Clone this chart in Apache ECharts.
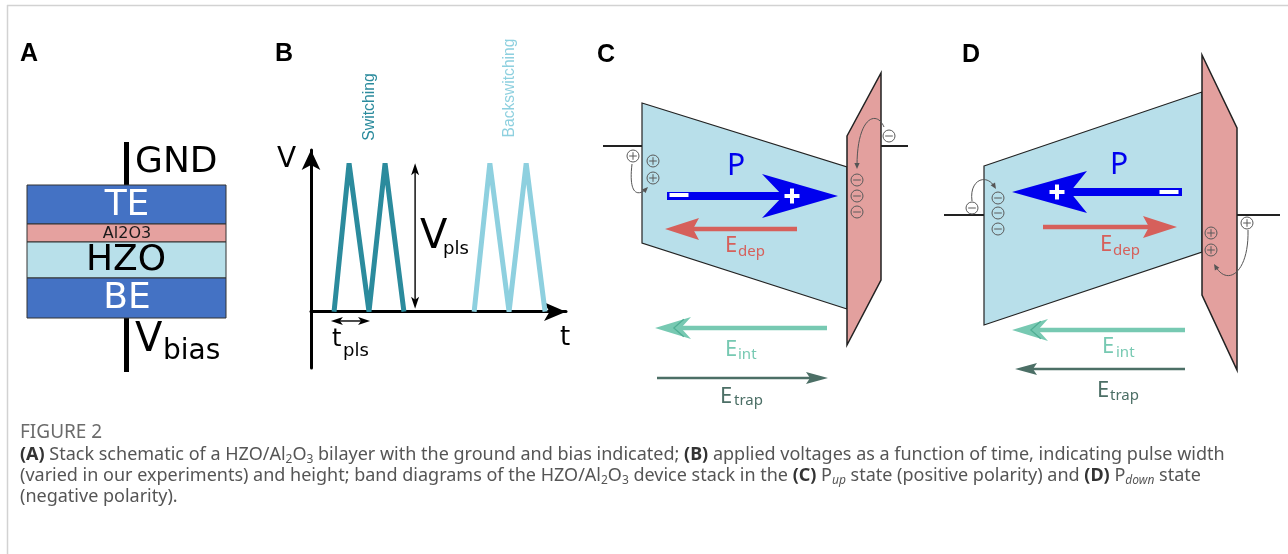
<!DOCTYPE html>
<html><head><meta charset="utf-8">
<script src="https://cdn.jsdelivr.net/npm/echarts@6/dist/echarts.min.js"></script>
<style>html,body{margin:0;padding:0;background:#fff}#c{width:1288px;height:554px}</style>
</head><body><div id="c"></div>
<script>
// ================= DATA =================
// Panel A: device stack (top electrode -> bottom electrode), layer boundaries
const stackLayers = ['TE', 'Al2O3', 'HZO', 'BE'];
const stackX = [27, 226];
const stackEdges = [185, 224, 242, 278, 318];
const wires = [[126.5, 142, 126.5, 185], [126.5, 318, 126.5, 372]];

// Panel B: applied voltage pulses (t in units, V normalised to V_pls)
const switchingT = [0.66, 1.09, 1.66, 2.12, 2.66];
const switchingV = [0, 1, 0, 1, 0];
const backswitchingT = [4.67, 5.12, 5.67, 6.16, 6.70];
const backswitchingV = [0, 1, 0, 1, 0];
const vplsMarker = [2.98, 0.02, 2.98, 1.0];
const tplsMarker = [0.57, -0.063, 1.69, -0.063];

// Panel C: P_up band diagram
const cHZO = [[642, 103], [847, 167], [847, 309], [642, 243]];
const cAl2O3 = [[847, 136], [881, 73], [881, 280], [847, 345]];
const cElectrodes = [[603, 146, 642, 146], [881, 146, 908, 146]];
const cP = [[667, 196, 838, 196]];
const cEdep = [[797, 229, 665, 229]];
const cEint = [[827, 328, 655, 328]];
const cEtrap = [[657, 378, 828, 378]];
const cCharges = [[633, 156, 1], [653, 161, 1], [653, 178, 1], [889, 136, -1], [857, 180, -1], [857, 196, -1], [857, 212, -1]];
const cHops = [[632, 164, 628, 198, 640, 195, 648, 187], [884, 127, 877, 110, 857, 116, 857, 169]];
const cSigns = [[679, 195, -1], [792, 196, 1]];

// Panel D: P_down band diagram
const dHZO = [[984, 166], [1202, 92], [1202, 252], [984, 325]];
const dAl2O3 = [[1202, 55], [1237, 128], [1237, 370], [1202, 295]];
const dElectrodes = [[944, 215, 984, 215], [1237, 215, 1280, 215]];
const dP = [[1182, 192, 1012, 192]];
const dEdep = [[1043, 227, 1177, 227]];
const dEint = [[1185, 330, 1012, 330]];
const dEtrap = [[1185, 369, 1015, 369]];
const dCharges = [[972, 208, -1], [998, 198, -1], [998, 213, -1], [998, 229, -1], [1247, 223, 1], [1211, 233, 1], [1211, 250, 1]];
const dHops = [[972, 201, 969, 180, 986, 173, 996, 189], [1248, 230, 1249, 272, 1228, 287, 1214, 264]];
const dSigns = [[1057, 192, 1], [1169, 192, -1]];

// ================= STYLES =================
const layerFill = ['#4472C4', '#E5A19F', '#B8E0EA', '#4472C4'];
const hzoFill = '#B8DFEA', alFill = '#E3A09E';
const colP = '#0000EE', colDep = '#D6605B', colInt = '#77C9B2', colTrap = '#4C6F66';
const colSw = '#2B8B9D', colBack = '#8ED0DF';

function zip(a, b) { return a.map((v, i) => [v, b[i]]); }

function polygonSeries(points, style, z) {
  return {
    type: 'custom', xAxisIndex: 0, yAxisIndex: 0, silent: true, z, data: points, encode: { x: 0, y: 1 },
    renderItem(params, api) {
      if (params.dataIndex !== 0) return null;
      return { type: 'polygon', shape: { points: points.map(p => api.coord(p)) }, style };
    }
  };
}
function segSeries(segs, style, z) {
  return {
    type: 'custom', xAxisIndex: 0, yAxisIndex: 0, silent: true, z, data: segs, encode: { x: [0, 2], y: [1, 3] },
    renderItem(params, api) {
      const a = api.coord([api.value(0), api.value(1)]), b = api.coord([api.value(2), api.value(3)]);
      return { type: 'line', shape: { x1: a[0], y1: a[1], x2: b[0], y2: b[1] }, style };
    }
  };
}
function arrowSeries(segs, st, z, xi, yi) {
  return {
    type: 'custom', xAxisIndex: xi || 0, yAxisIndex: yi || 0, silent: true, z, data: segs, encode: { x: [0, 2], y: [1, 3] },
    renderItem(params, api) {
      const a = api.coord([api.value(0), api.value(1)]), b = api.coord([api.value(2), api.value(3)]);
      const dx = b[0] - a[0], dy = b[1] - a[1], L = Math.hypot(dx, dy), ux = dx / L, uy = dy / L, px = -uy, py = ux;
      const hw = st.shaft / 2;
      const children = [];
      const head = (s, e) => {
        const vx = (e[0] - s[0]) / L, vy = (e[1] - s[1]) / L, qx = -vy, qy = vx;
        const base = [e[0] - vx * st.headLen, e[1] - vy * st.headLen];
        const notch = [e[0] - vx * (st.headLen - st.notch), e[1] - vy * (st.headLen - st.notch)];
        const hstyle = { fill: st.color };
        if (st.edge) { hstyle.stroke = st.edge; hstyle.lineWidth = 1; }
        children.push({ type: 'polygon', shape: { points: [e, [base[0] + qx * st.half, base[1] + qy * st.half], notch, [base[0] - qx * st.half, base[1] - qy * st.half]] }, style: hstyle });
        if (st.inner) {
          const ib = [e[0] - vx * st.headLen * 0.8, e[1] - vy * st.headLen * 0.8];
          const inn = [e[0] - vx * (st.headLen * 0.8 - st.notch), e[1] - vy * (st.headLen * 0.8 - st.notch)];
          children.push({ type: 'polyline', shape: { points: [[ib[0] + qx * st.half * 0.8, ib[1] + qy * st.half * 0.8], inn, [ib[0] - qx * st.half * 0.8, ib[1] - qy * st.half * 0.8]] }, style: { stroke: st.inner, lineWidth: 1.2, fill: 'none' } });
        }
        return [e[0] - vx * (st.headLen - st.notch - 1), e[1] - vy * (st.headLen - st.notch - 1)];
      };
      const endB = head(a, b);
      const endA = st.both ? head(b, a) : a;
      children.unshift({ type: 'polygon', shape: { points: [[endA[0] + px * hw, endA[1] + py * hw], [endB[0] + px * hw, endB[1] + py * hw], [endB[0] - px * hw, endB[1] - py * hw], [endA[0] - px * hw, endA[1] - py * hw]] }, style: { fill: st.color } });
      return { type: 'group', children };
    }
  };
}
function chargeSeries(data, z) {
  return {
    type: 'custom', xAxisIndex: 0, yAxisIndex: 0, silent: true, z, data, encode: { x: 0, y: 1 },
    renderItem(params, api) {
      const c = api.coord([api.value(0), api.value(1)]), s = api.value(2), r = 6, a = 3.8, col = '#5a5a5a';
      const ch = [
        { type: 'circle', shape: { cx: c[0], cy: c[1], r }, style: { fill: 'none', stroke: col, lineWidth: 1 } },
        { type: 'line', shape: { x1: c[0] - a, y1: c[1], x2: c[0] + a, y2: c[1] }, style: { stroke: col, lineWidth: 1 } }
      ];
      if (s > 0) ch.push({ type: 'line', shape: { x1: c[0], y1: c[1] - a, x2: c[0], y2: c[1] + a }, style: { stroke: col, lineWidth: 1 } });
      return { type: 'group', children: ch };
    }
  };
}
function signSeries(data, z) {
  return {
    type: 'custom', xAxisIndex: 0, yAxisIndex: 0, silent: true, z, data, encode: { x: 0, y: 1 },
    renderItem(params, api) {
      const c = api.coord([api.value(0), api.value(1)]), s = api.value(2);
      const ch = [];
      if (s > 0) {
        ch.push({ type: 'rect', shape: { x: c[0] - 7.5, y: c[1] - 2, width: 15, height: 4 }, style: { fill: '#fff' } });
        ch.push({ type: 'rect', shape: { x: c[0] - 2, y: c[1] - 7.5, width: 4, height: 15 }, style: { fill: '#fff' } });
      } else {
        ch.push({ type: 'rect', shape: { x: c[0] - 9.5, y: c[1] - 2, width: 19, height: 4 }, style: { fill: '#fff' } });
      }
      return { type: 'group', children: ch };
    }
  };
}
function hopSeries(data, z) {
  return {
    type: 'custom', xAxisIndex: 0, yAxisIndex: 0, silent: true, z, data, encode: { x: [0, 2, 4, 6], y: [1, 3, 5, 7] },
    renderItem(params, api) {
      const p = [0, 2, 4, 6].map(i => api.coord([api.value(i), api.value(i + 1)]));
      const s = p[0], c1 = p[1], c2 = p[2], e = p[3];
      const dx = e[0] - c2[0], dy = e[1] - c2[1], L = Math.hypot(dx, dy) || 1, ux = dx / L, uy = dy / L;
      const hl = 6, hw = 2.6, col = '#555';
      return {
        type: 'group', children: [
          { type: 'bezierCurve', shape: { x1: s[0], y1: s[1], cpx1: c1[0], cpy1: c1[1], cpx2: c2[0], cpy2: c2[1], x2: e[0] - ux * 3, y2: e[1] - uy * 3 }, style: { stroke: col, lineWidth: 1, fill: 'none' } },
          { type: 'polygon', shape: { points: [e, [e[0] - ux * hl - uy * hw, e[1] - uy * hl + ux * hw], [e[0] - ux * hl + uy * hw, e[1] - uy * hl - ux * hw]] }, style: { fill: col } }
        ]
      };
    }
  };
}
const stackData = stackLayers.map((n, i) => [stackX[0], stackEdges[i], stackX[1], stackEdges[i + 1]]);
const stackSeries = {
  type: 'custom', xAxisIndex: 0, yAxisIndex: 0, silent: true, z: 3, data: stackData, encode: { x: [0, 2], y: [1, 3] },
  renderItem(params, api) {
    const a = api.coord([api.value(0), api.value(1)]), b = api.coord([api.value(2), api.value(3)]);
    return { type: 'rect', shape: { x: a[0], y: a[1], width: b[0] - a[0], height: b[1] - a[1] }, style: { fill: layerFill[params.dataIndex], stroke: '#333', lineWidth: 1 } };
  }
};

const stP = { color: colP, shaft: 8, headLen: 76, half: 22, notch: 21 };
const stPd = { color: colP, shaft: 8, headLen: 75, half: 21, notch: 17 };
const stDep = { color: colDep, shaft: 4.5, headLen: 34, half: 11, notch: 6 };
const stInt = { color: colInt, shaft: 4.5, headLen: 36, half: 11, notch: 10, inner: '#4FAE94' };
const stTrap = { color: colTrap, shaft: 2.5, headLen: 22, half: 6, notch: 4 };
const stDim = { color: '#000', shaft: 1.4, headLen: 12, half: 4, notch: 3, both: true };

// ================= TEXT =================
function txt(text, x, y, size, color, o) {
  o = o || {};
  const font = (o.style || 'normal') + ' ' + (o.weight || 'normal') + ' ' + size + 'px ' + (o.family || '"DejaVu Sans"');
  return {
    type: 'text', x, y, rotation: o.rot || 0, silent: true, z: 100,
    style: { text, fill: color, font, align: o.align || 'left', verticalAlign: 'middle', textAlign: o.align || 'left', textVerticalAlign: 'middle' }
  };
}
const bold = { weight: 'bold', family: '"Liberation Sans"' };
const noto = { family: '"Noto Sans"' };
const texts = [
  txt('A', 20, 54, 25, '#000', bold), txt('B', 275, 54, 25, '#000', bold),
  txt('C', 597, 55, 25, '#000', bold), txt('D', 962, 55, 25, '#000', bold),
  txt('GND', 135, 163, 36, '#000'),
  txt('TE', 127, 206, 36, '#fff', { align: 'center' }),
  txt('Al2O3', 127, 234, 16, '#1a1a1a', { align: 'center' }),
  txt('HZO', 126, 261, 36, '#000', { align: 'center' }),
  txt('BE', 127, 299, 36, '#fff', { align: 'center' }),
  txt('V', 135, 341, 40, '#000'), txt('bias', 163, 352, 28, '#000'),
  txt('V', 277, 160, 28, '#000'), txt('t', 560, 338, 26, '#000'),
  txt('V', 420, 238, 40, '#000'), txt('pls', 443, 249, 18, '#000'),
  txt('t', 332, 340, 24, '#000'), txt('pls', 343, 351, 18, '#000'),
  txt('Switching', 370, 107, 15.8, colSw, { align: 'center', rot: Math.PI / 2, family: '"Liberation Sans"' }),
  txt('Backswitching', 510, 88, 15.6, colBack, { align: 'center', rot: Math.PI / 2, family: '"Liberation Sans"' }),
  txt('P', 727, 166, 30, colP, noto),
  txt('E', 725, 246, 22, colDep, noto), txt('dep', 738, 252, 15, colDep, noto),
  txt('E', 725, 350, 22, colInt, noto), txt('int', 738, 355, 15, colInt, noto),
  txt('E', 720, 397, 22, colTrap, noto), txt('trap', 734, 401, 15, colTrap, noto),
  txt('P', 1110, 165, 30, colP, noto),
  txt('E', 1100, 245, 22, colDep, noto), txt('dep', 1113, 251, 15, colDep, noto),
  txt('E', 1102, 347, 22, colInt, noto), txt('int', 1116, 353, 15, colInt, noto),
  txt('E', 1097, 391, 22, colTrap, noto), txt('trap', 1110, 396, 15, colTrap, noto)
];
const capFs = 18;
const capRich = {
  b: { fontWeight: 'bold', fill: '#333', fontSize: capFs, fontFamily: 'Noto Sans', lineHeight: 22 },
  s: { fontSize: 12, fontFamily: 'Noto Sans', verticalAlign: 'bottom', fill: '#555' },
  si: { fontSize: 12, fontStyle: 'italic', fontFamily: 'Noto Sans', verticalAlign: 'bottom', fill: '#555' }
};
function cap(text, y) {
  return { type: 'text', x: 20, y, silent: true, z: 100, style: { text, fill: '#555', font: 'normal ' + capFs + 'px "Noto Sans"', lineHeight: 22, rich: capRich, verticalAlign: 'middle', textVerticalAlign: 'middle' } };
}
const captions = [
  txt('FIGURE 2', 20, 433, 19, '#6b6b6b', noto),
  cap('{b|(A)} Stack schematic of a HZO/Al{s|2}O{s|3} bilayer with the ground and bias indicated; {b|(B)} applied voltages as a function of time, indicating pulse width', 455),
  cap('(varied in our experiments) and height; band diagrams of the HZO/Al{s|2}O{s|3} device stack in the {b|(C)} P{si|up} state (positive polarity) and {b|(D)} P{si|down} state', 476),
  cap('(negative polarity).', 497)
];
const frame = [
  { type: 'line', silent: true, shape: { x1: 7, y1: 5.5, x2: 1288, y2: 5.5 }, style: { stroke: '#d2d2d2', lineWidth: 1.5 } },
  { type: 'line', silent: true, shape: { x1: 7.5, y1: 5, x2: 7.5, y2: 554 }, style: { stroke: '#d2d2d2', lineWidth: 1.5 } }
];

// ================= CHART =================
const chart = echarts.init(document.getElementById('c'), null, { renderer: 'canvas', width: 1288, height: 554 });
const hiddenAxis = { type: 'value', show: false, gridIndex: 0 };
const bAxisCommon = { gridIndex: 1, type: 'value', axisTick: { show: false }, axisLabel: { show: false }, splitLine: { show: false } };
chart.setOption({
  animation: false,
  backgroundColor: '#fff',
  grid: [
    { left: 0, top: 0, width: 1288, height: 554, outerBoundsMode: 'none', containLabel: false },
    { left: 311, top: 150, width: 255, height: 218, outerBoundsMode: 'none', containLabel: false }
  ],
  xAxis: [
    Object.assign({}, hiddenAxis, { min: 0, max: 1288 }),
    Object.assign({}, bAxisCommon, { min: 0, max: 7.3, axisLine: { show: true, onZero: true, symbol: ['none', 'arrow'], symbolSize: [14, 22], lineStyle: { color: '#000', width: 3 } } })
  ],
  yAxis: [
    Object.assign({}, hiddenAxis, { min: 0, max: 554, inverse: true }),
    Object.assign({}, bAxisCommon, { min: -0.38, max: 1.09, axisLine: { show: true, onZero: true, symbol: ['none', 'arrow'], symbolSize: [14, 20], lineStyle: { color: '#000', width: 3 } } })
  ],
  series: [
    // Panel A
    segSeries(wires, { stroke: '#000', lineWidth: 5 }, 2),
    stackSeries,
    // Panel B
    { type: 'line', xAxisIndex: 1, yAxisIndex: 1, data: zip(switchingT, switchingV), symbol: 'none', showSymbol: false, silent: true, z: 3, lineStyle: { color: colSw, width: 5, join: 'bevel', cap: 'butt' } },
    { type: 'line', xAxisIndex: 1, yAxisIndex: 1, data: zip(backswitchingT, backswitchingV), symbol: 'none', showSymbol: false, silent: true, z: 3, lineStyle: { color: colBack, width: 5, join: 'bevel', cap: 'butt' } },
    arrowSeries([vplsMarker], stDim, 4, 1, 1),
    arrowSeries([tplsMarker], stDim, 4, 1, 1),
    // Panel C
    segSeries(cElectrodes, { stroke: '#222', lineWidth: 2 }, 1),
    polygonSeries(cHZO, { fill: hzoFill, stroke: '#222', lineWidth: 1.2 }, 2),
    polygonSeries(cAl2O3, { fill: alFill, stroke: '#222', lineWidth: 1.5 }, 3),
    arrowSeries(cP, stP, 4), arrowSeries(cEdep, stDep, 4), arrowSeries(cEint, stInt, 4), arrowSeries(cEtrap, stTrap, 4),
    signSeries(cSigns, 5), chargeSeries(cCharges, 5), hopSeries(cHops, 5),
    // Panel D
    segSeries(dElectrodes, { stroke: '#222', lineWidth: 2 }, 1),
    polygonSeries(dHZO, { fill: hzoFill, stroke: '#222', lineWidth: 1.2 }, 2),
    polygonSeries(dAl2O3, { fill: alFill, stroke: '#222', lineWidth: 1.5 }, 3),
    arrowSeries(dP, stPd, 4), arrowSeries(dEdep, stDep, 4), arrowSeries(dEint, stInt, 4), arrowSeries(dEtrap, stTrap, 4),
    signSeries(dSigns, 5), chargeSeries(dCharges, 5), hopSeries(dHops, 5)
  ],
  graphic: frame.concat(texts, captions)
});
</script></body></html>
